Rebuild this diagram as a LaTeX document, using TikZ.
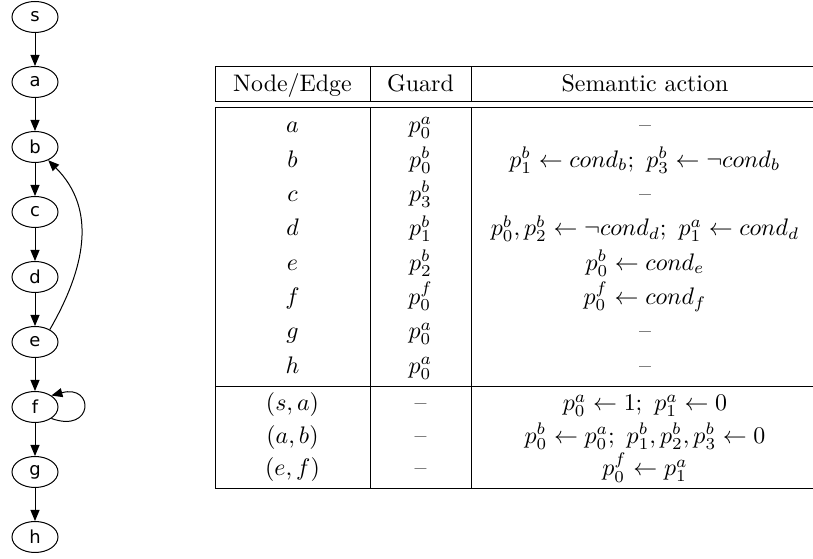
\documentclass[tikz,border=0pt]{standalone}
\usepackage{fontspec}
\newfontfamily\graphfont{DejaVu Sans}
\usetikzlibrary{arrows.meta,shapes.geometric}

\begin{document}
\begin{tikzpicture}[x=1bp,y=1bp,>={Triangle[length=11bp,width=9bp]},line width=1bp,
  vtx/.style={ellipse,draw,minimum width=46bp,minimum height=31bp,inner sep=0pt,
    font=\graphfont\fontsize{18}{18}\selectfont},
  cell/.style={anchor=base,scale=2.4}]
  \useasboundingbox (0,0) rectangle (813,559);

  % flow graph
  \node[vtx] (s) at (35,542) {s};
  \node[vtx] (a) at (35,477) {a};
  \node[vtx] (b) at (35,412) {b};
  \node[vtx] (c) at (35,347) {c};
  \node[vtx] (d) at (35,282) {d};
  \node[vtx] (e) at (35,217) {e};
  \node[vtx] (f) at (35,152) {f};
  \node[vtx] (g) at (35,87) {g};
  \node[vtx] (h) at (35,22) {h};

  \draw[->] (s) -- (a);
  \draw[->] (a) -- (b);
  \draw[->] (b) -- (c);
  \draw[->] (c) -- (d);
  \draw[->] (d) -- (e);
  \draw[->] (e) -- (f);
  \draw[->] (f) -- (g);
  \draw[->] (g) -- (h);

  % back edge and self loop
  \draw[->] (e.40) .. controls +(60:70) and +(-45:70) .. (b.-45);
  \draw[->] (f.-35) .. controls +(-20:45) and +(15:45) .. (f.35);

  % table rules
  \draw (215,492) -- (830,492);
  \draw (215,457) -- (830,457);
  \draw (215,451) -- (830,451);
  \draw (215,172.5) -- (830,172.5);
  \draw (215,70) -- (830,70);
  \draw (215,492) -- (215,457) (370,492) -- (370,457) (471,492) -- (471,457);
  \draw (215,451) -- (215,70) (370,451) -- (370,70) (471,451) -- (471,70);

  % header
  \node[cell] (hd-lbl) at (292.5,467) {Node/Edge};
  \node[cell] (hd-grd) at (420.5,467) {Guard};
  \node[cell] (hd-act) at (645,467) {Semantic action};

  % node rows
  \node[cell] (lbl-a) at (292.5,426) {$a$};
  \node[cell] (grd-a) at (420.5,426) {$p_0^a$};
  \node[cell] (act-a) at (645,426) {--};

  \node[cell] (lbl-b) at (292.5,391.7) {$b$};
  \node[cell] (grd-b) at (420.5,391.7) {$p_0^b$};
  \node[cell] (act-b) at (645,391.7) {$p_1^b \leftarrow cond_b;\ p_3^b \leftarrow \neg cond_b$};

  \node[cell] (lbl-c) at (292.5,357.4) {$c$};
  \node[cell] (grd-c) at (420.5,357.4) {$p_3^b$};
  \node[cell] (act-c) at (645,357.4) {--};

  \node[cell] (lbl-d) at (292.5,323.1) {$d$};
  \node[cell] (grd-d) at (420.5,323.1) {$p_1^b$};
  \node[cell] (act-d) at (645,323.1) {$p_0^b, p_2^b \leftarrow \neg cond_d;\ p_1^a \leftarrow cond_d$};

  \node[cell] (lbl-e) at (292.5,288.8) {$e$};
  \node[cell] (grd-e) at (420.5,288.8) {$p_2^b$};
  \node[cell] (act-e) at (645,288.8) {$p_0^b \leftarrow cond_e$};

  \node[cell] (lbl-f) at (292.5,254.5) {$f$};
  \node[cell] (grd-f) at (420.5,254.5) {$p_0^f$};
  \node[cell] (act-f) at (645,254.5) {$p_0^f \leftarrow cond_f$};

  \node[cell] (lbl-g) at (292.5,220.2) {$g$};
  \node[cell] (grd-g) at (420.5,220.2) {$p_0^a$};
  \node[cell] (act-g) at (645,220.2) {--};

  \node[cell] (lbl-h) at (292.5,185.9) {$h$};
  \node[cell] (grd-h) at (420.5,185.9) {$p_0^a$};
  \node[cell] (act-h) at (645,185.9) {--};

  % edge rows
  \node[cell] (lbl-sa) at (292.5,148) {$(s,a)$};
  \node[cell] (grd-sa) at (420.5,148) {--};
  \node[cell] (act-sa) at (645,148) {$p_0^a \leftarrow 1;\ p_1^a \leftarrow 0$};

  \node[cell] (lbl-ab) at (292.5,115.5) {$(a,b)$};
  \node[cell] (grd-ab) at (420.5,115.5) {--};
  \node[cell] (act-ab) at (645,115.5) {$p_0^b \leftarrow p_0^a;\ p_1^b, p_2^b, p_3^b \leftarrow 0$};

  \node[cell] (lbl-ef) at (292.5,83) {$(e,f)$};
  \node[cell] (grd-ef) at (420.5,83) {--};
  \node[cell] (act-ef) at (645,83) {$p_0^f \leftarrow p_1^a$};
\end{tikzpicture}
\end{document}
